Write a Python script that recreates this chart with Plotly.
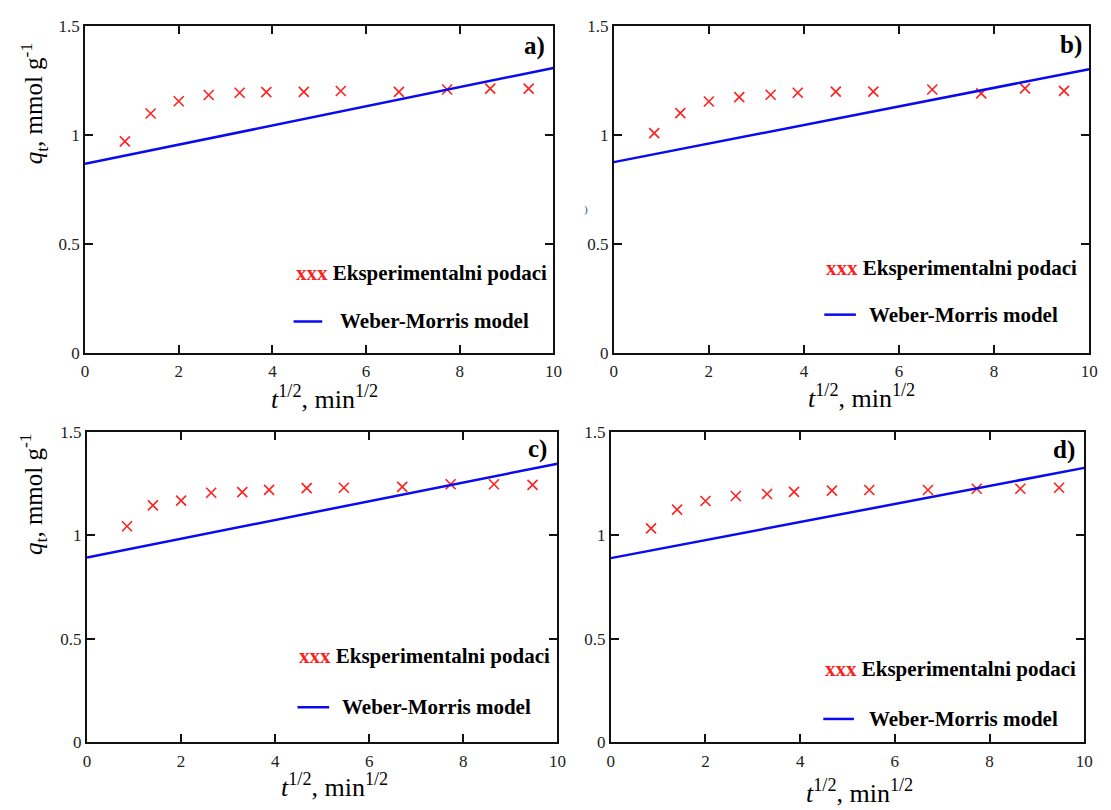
import plotly.graph_objects as go

W, H = 1111, 810

# ---- data ----
sqrt_t = [0.85, 1.4, 2.0, 2.64, 3.3, 3.87, 4.67, 5.46, 6.7, 7.73, 8.65, 9.47]
q_a = [0.969, 1.097, 1.153, 1.182, 1.192, 1.195, 1.196, 1.200, 1.196, 1.207, 1.211, 1.211]
q_b = [1.007, 1.099, 1.152, 1.172, 1.183, 1.192, 1.197, 1.197, 1.207, 1.189, 1.212, 1.201]
q_c = [1.044, 1.145, 1.168, 1.206, 1.209, 1.220, 1.228, 1.230, 1.234, 1.247, 1.247, 1.244]
q_d = [1.034, 1.124, 1.166, 1.190, 1.200, 1.210, 1.216, 1.219, 1.219, 1.225, 1.225, 1.230]

model_x = [0, 10]
model_a = [0.866, 1.306]
model_b = [0.874, 1.300]
model_c = [0.893, 1.346]
model_d = [0.890, 1.326]

panel_labels = ["a)", "b)", "c)", "d)"]
x_ticks = [0, 2, 4, 6, 8, 10]
y_ticks = [0, 0.5, 1, 1.5]
y_ticktext = ["0", "0.5", "1", "1.5"]

legend_exp = "Eksperimentalni podaci"
legend_model = "Weber-Morris model"
x_title = "<i>t</i><sup>1/2</sup>, min<sup>1/2</sup>"
y_title = "<i>q</i><sub>t</sub>, mmol g<sup>-1</sup>"

# ---- styling / layout (pixels) ----
RED = "#ff1f1f"
BLUE = "#0a0af0"
FONT = "Liberation Serif"

# plot boxes: left, right, top, bottom in pixels
boxes = [(82, 556, 17, 352), (617, 1098, 17, 352), (84, 560, 433, 751), (614, 1093, 433, 751)]
label_pos = [(537, 38), (1080, 37), (540, 451), (1073, 452)]
leg_exp_pos = [(293, 270), (830, 265), (296, 663), (829, 676)]
leg_line = [(293, 322, 320), (830, 862, 313), (297, 329, 715), (829, 860, 727)]
leg_model_pos = [(338, 320), (873, 313), (340, 715), (873, 727)]
xtitle_pos = [(324, 398), (868, 397), (334, 795), (866, 801)]
ytitle_pos = [(30, 97), None, (30, 497), None]

series = [q_a, q_b, q_c, q_d]
models = [model_a, model_b, model_c, model_d]


def px(x, y):
    return x / W, 1 - y / H


fig = go.Figure()
annotations = []
shapes = []
layout_axes = {}

for i in range(4):
    xa = "x" if i == 0 else f"x{i+1}"
    ya = "y" if i == 0 else f"y{i+1}"
    fig.add_trace(go.Scatter(
        x=sqrt_t, y=series[i], mode="markers", xaxis=xa, yaxis=ya,
        marker=dict(symbol="x-thin", size=10, color=RED, line=dict(color=RED, width=1.6)),
        showlegend=False, cliponaxis=False))
    fig.add_trace(go.Scatter(
        x=model_x, y=models[i], mode="lines", xaxis=xa, yaxis=ya,
        line=dict(color=BLUE, width=2.5), showlegend=False))

    l, r, t, b = boxes[i]
    common = dict(showline=True, linecolor="#111", linewidth=2, mirror="ticks",
                  ticks="inside", ticklen=8, tickwidth=1.5, tickcolor="#111",
                  showgrid=False, zeroline=False,
                  tickfont=dict(family=FONT, size=17, color="#222"))
    xkey = "xaxis" if i == 0 else f"xaxis{i+1}"
    ykey = "yaxis" if i == 0 else f"yaxis{i+1}"
    layout_axes[xkey] = dict(common, domain=[l / W, r / W], range=[0, 10],
                             tickvals=x_ticks, anchor=ya, ticklabelstandoff=2)
    layout_axes[ykey] = dict(common, domain=[1 - b / H, 1 - t / H], range=[0, 1.5],
                             tickvals=y_ticks, ticktext=y_ticktext, anchor=xa,
                             ticklabelstandoff=0)

    # panel label
    x0, y0 = px(*label_pos[i])
    annotations.append(dict(x=x0, y=y0, xref="paper", yref="paper", text="<b>%s</b>" % panel_labels[i],
                            showarrow=False, font=dict(family=FONT, size=25, color="#000"),
                            xanchor="center", yanchor="middle"))
    # legend entries
    x0, y0 = px(*leg_exp_pos[i])
    annotations.append(dict(x=x0, y=y0, xref="paper", yref="paper",
                            text="<b><span style='color:%s'>xxx</span> %s</b>" % (RED, legend_exp),
                            showarrow=False, font=dict(family=FONT, size=21, color="#000"),
                            xanchor="left", yanchor="middle"))
    lx0, lx1, ly = leg_line[i]
    shapes.append(dict(type="line", xref="paper", yref="paper",
                       x0=lx0 / W, x1=lx1 / W, y0=1 - ly / H, y1=1 - ly / H,
                       line=dict(color=BLUE, width=2.5)))
    x0, y0 = px(*leg_model_pos[i])
    annotations.append(dict(x=x0, y=y0, xref="paper", yref="paper",
                            text="<b>%s</b>" % legend_model,
                            showarrow=False, font=dict(family=FONT, size=21, color="#000"),
                            xanchor="left", yanchor="middle"))
    # axis titles
    x0, y0 = px(*xtitle_pos[i])
    annotations.append(dict(x=x0, y=y0, xref="paper", yref="paper", text=x_title,
                            showarrow=False, font=dict(family=FONT, size=26, color="#000"),
                            xanchor="center", yanchor="middle"))
    if ytitle_pos[i] is not None:
        x0, y0 = px(*ytitle_pos[i])
        annotations.append(dict(x=x0, y=y0, xref="paper", yref="paper", text=y_title,
                                textangle=-90, showarrow=False,
                                font=dict(family=FONT, size=25, color="#000"),
                                xanchor="center", yanchor="middle"))

# small stray mark seen in panel b of the reference
x0, y0 = px(589, 205)
annotations.append(dict(x=x0, y=y0, xref="paper", yref="paper", text=")", showarrow=False,
                        font=dict(family=FONT, size=11, color="#2a4f9a"),
                        xanchor="center", yanchor="middle"))

fig.update_layout(
    width=W, height=H, margin=dict(l=0, r=0, t=0, b=0),
    paper_bgcolor="white", plot_bgcolor="white",
    annotations=annotations, shapes=shapes, showlegend=False,
    **layout_axes)

fig.write_html("out.html", config={"displayModeBar": False},
               post_script="document.body.style.margin='0';")
